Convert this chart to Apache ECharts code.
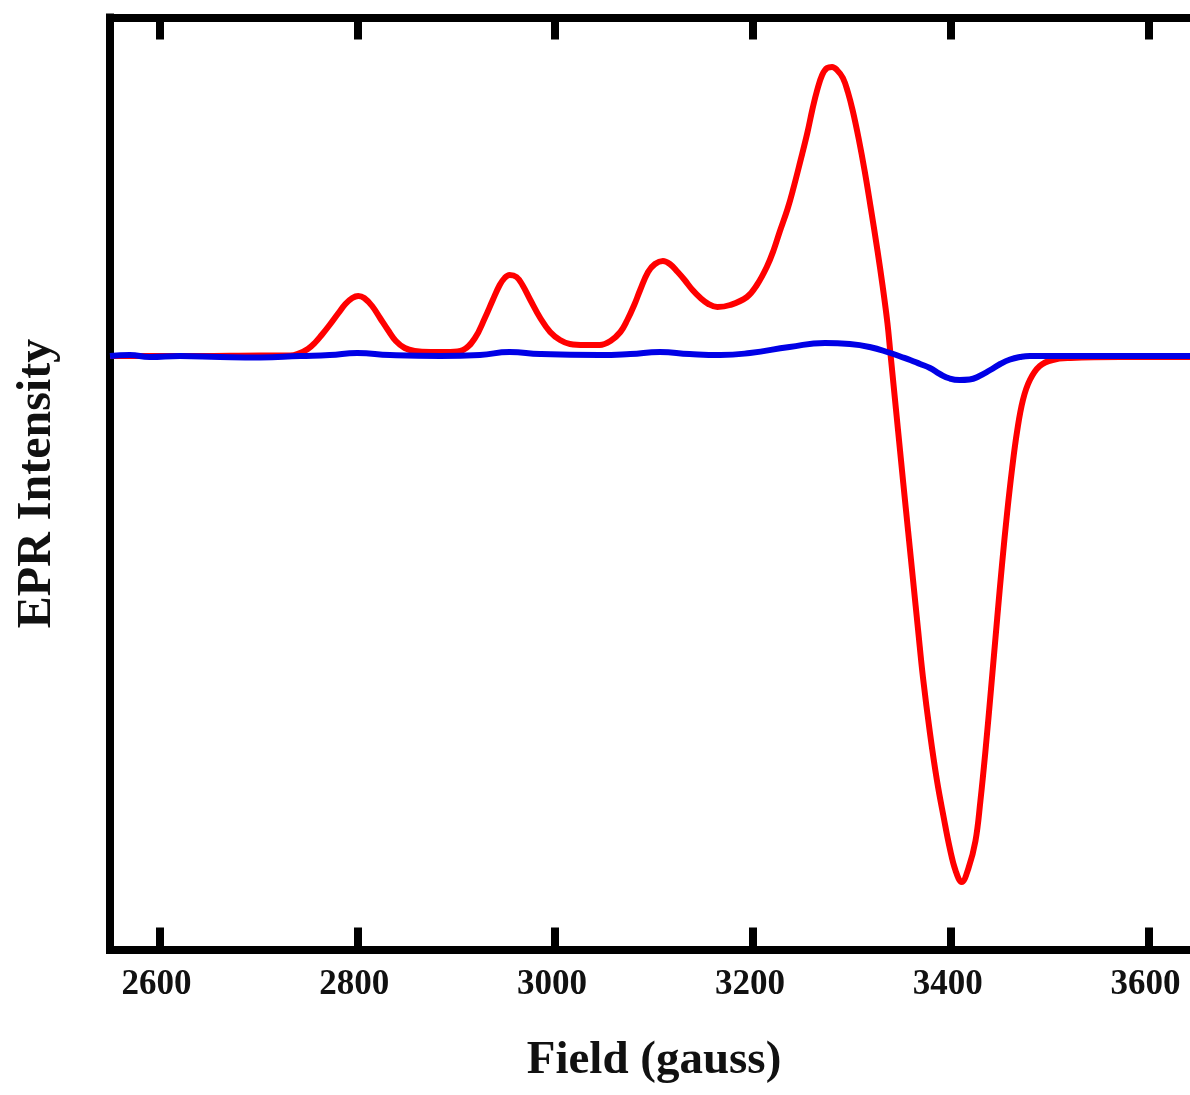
<!DOCTYPE html>
<html>
<head>
<meta charset="utf-8">
<script src="https://cdn.jsdelivr.net/npm/echarts@6/dist/echarts.min.js"></script>
<style>
  html, body { margin: 0; padding: 0; background: #fff; overflow: hidden; }
  /* the plot frame runs slightly past the right edge of the window */
  #chart { width: 1198px; height: 1095px; }
</style>
</head>
<body>
<div id="chart"></div>
<script>
// Magnetic field (gauss) and EPR intensity (a.u.) for the two spectra
var redField = [2550, 2641, 2702, 2732, 2742, 2750, 2757, 2764, 2772, 2781, 2788, 2795, 2801, 2807,
  2815, 2823, 2831, 2839, 2848, 2858, 2874, 2894, 2907, 2919, 2929, 2937, 2944, 2949, 2954,
  2961, 2967, 2975, 2985, 2995, 3005, 3015, 3030, 3045, 3056, 3066, 3073, 3080, 3086, 3094,
  3101, 3109, 3116, 3124, 3131, 3139, 3147, 3155, 3164, 3177, 3194, 3204, 3214, 3221, 3227,
  3235, 3241, 3248, 3255, 3260, 3265, 3270, 3275, 3280, 3285, 3291, 3296, 3301, 3307, 3313,
  3319, 3326, 3331, 3336, 3339, 3342, 3347, 3352, 3357, 3362, 3367, 3372, 3379, 3386, 3393,
  3399, 3405, 3411, 3418, 3425, 3430, 3435, 3441, 3447, 3452, 3457, 3462, 3467, 3473, 3480,
  3490, 3503, 3521, 3571, 3650];
var redIntensity = [0.00, 0.00, 0.005, 0.005, 0.03, 0.07, 0.13, 0.21, 0.31, 0.43, 0.52, 0.58, 0.60, 0.58,
  0.50, 0.38, 0.26, 0.15, 0.08, 0.05, 0.04, 0.04, 0.06, 0.18, 0.38, 0.56, 0.71, 0.78, 0.81,
  0.79, 0.71, 0.56, 0.38, 0.24, 0.16, 0.12, 0.11, 0.11, 0.15, 0.24, 0.36, 0.51, 0.66, 0.84,
  0.92, 0.95, 0.92, 0.84, 0.76, 0.66, 0.58, 0.52, 0.49, 0.51, 0.59, 0.71, 0.89, 1.06, 1.24,
  1.47, 1.68, 1.95, 2.23, 2.46, 2.66, 2.81, 2.88, 2.89, 2.86, 2.78, 2.64, 2.45, 2.17, 1.85,
  1.49, 1.05, 0.71, 0.33, 0.03, -0.27, -0.77, -1.27, -1.76, -2.25, -2.74, -3.22, -3.77, -4.24, -4.62,
  -4.92, -5.15, -5.26, -5.12, -4.85, -4.45, -3.96, -3.30, -2.62, -2.07, -1.57, -1.13, -0.76, -0.44, -0.24,
  -0.10, -0.04, -0.02, -0.01, -0.01];

var blueField = [2550, 2570, 2590, 2621, 2661, 2702, 2742, 2772, 2800, 2833, 2884, 2924, 2954, 2985,
  3045, 3076, 3106, 3136, 3167, 3197, 3237, 3273, 3298, 3318, 3339, 3349, 3359, 3369, 3379,
  3389, 3399, 3409, 3419, 3429, 3440, 3450, 3460, 3470, 3480, 3561, 3650];
var blueIntensity = [0.00, 0.01, -0.01, 0.00, -0.01, -0.015, 0.00, 0.01, 0.03, 0.01, 0.00, 0.01, 0.04, 0.02,
  0.01, 0.02, 0.04, 0.02, 0.01, 0.03, 0.09, 0.13, 0.12, 0.09, 0.03, -0.005, -0.04, -0.08, -0.12,
  -0.18, -0.225, -0.24, -0.235, -0.20, -0.14, -0.08, -0.035, -0.01, 0.00, 0.00, 0.00];

var fieldTicks = [2600, 2800, 3000, 3200, 3400, 3600];

function pairs(xs, ys) {
  return xs.map(function (x, i) { return [x, ys[i]]; });
}

var serif = '"Liberation Serif", "DejaVu Serif", serif';
var frame = { show: true, onZero: false, lineStyle: { color: '#000', width: 8, cap: 'square' } };
var ticks = { show: true, inside: true, length: 22, customValues: fieldTicks,
  lineStyle: { color: '#000', width: 8 } };

var chart = echarts.init(document.getElementById('chart'));

chart.setOption({
  backgroundColor: '#fff',
  animation: false,
  grid: { left: 110, right: 0, top: 17.5, bottom: 145.5, show: false },
  xAxis: [
    {
      type: 'value',
      position: 'bottom',
      min: 2550,
      max: 3650,
      name: 'Field (gauss)',
      nameLocation: 'middle',
      nameGap: 88,
      nameTextStyle: { fontFamily: serif, fontWeight: 'bold', fontSize: 47, color: '#111' },
      axisLine: frame,
      axisTick: ticks,
      axisLabel: { show: true, customValues: fieldTicks, margin: 18, padding: [0, 6, 0, 0],
        formatter: function (v) { return String(v); },
        fontFamily: serif, fontWeight: 'bold', fontSize: 35, color: '#111' },
      splitLine: { show: false }
    },
    {
      type: 'value',
      position: 'top',
      min: 2550,
      max: 3650,
      axisLine: frame,
      axisTick: ticks,
      axisLabel: { show: false },
      splitLine: { show: false }
    }
  ],
  yAxis: {
    type: 'value',
    position: 'left',
    min: -5.935,
    max: 3.385,
    name: 'EPR Intensity',
    nameLocation: 'middle',
    nameGap: 48,
    nameTextStyle: { fontFamily: serif, fontWeight: 'bold', fontSize: 48, color: '#111' },
    axisLine: frame,
    axisTick: { show: false },
    axisLabel: { show: false },
    splitLine: { show: false }
  },
  series: [
    {
      type: 'line',
      xAxisIndex: 0,
      data: pairs(redField, redIntensity),
      smooth: 0.4,
      showSymbol: false,
      lineStyle: { color: '#ff0000', width: 6 },
      z: 2
    },
    {
      type: 'line',
      xAxisIndex: 0,
      data: pairs(blueField, blueIntensity),
      smooth: 0.5,
      showSymbol: false,
      lineStyle: { color: '#0000e6', width: 6 },
      z: 3
    }
  ]
});
</script>
</body>
</html>
